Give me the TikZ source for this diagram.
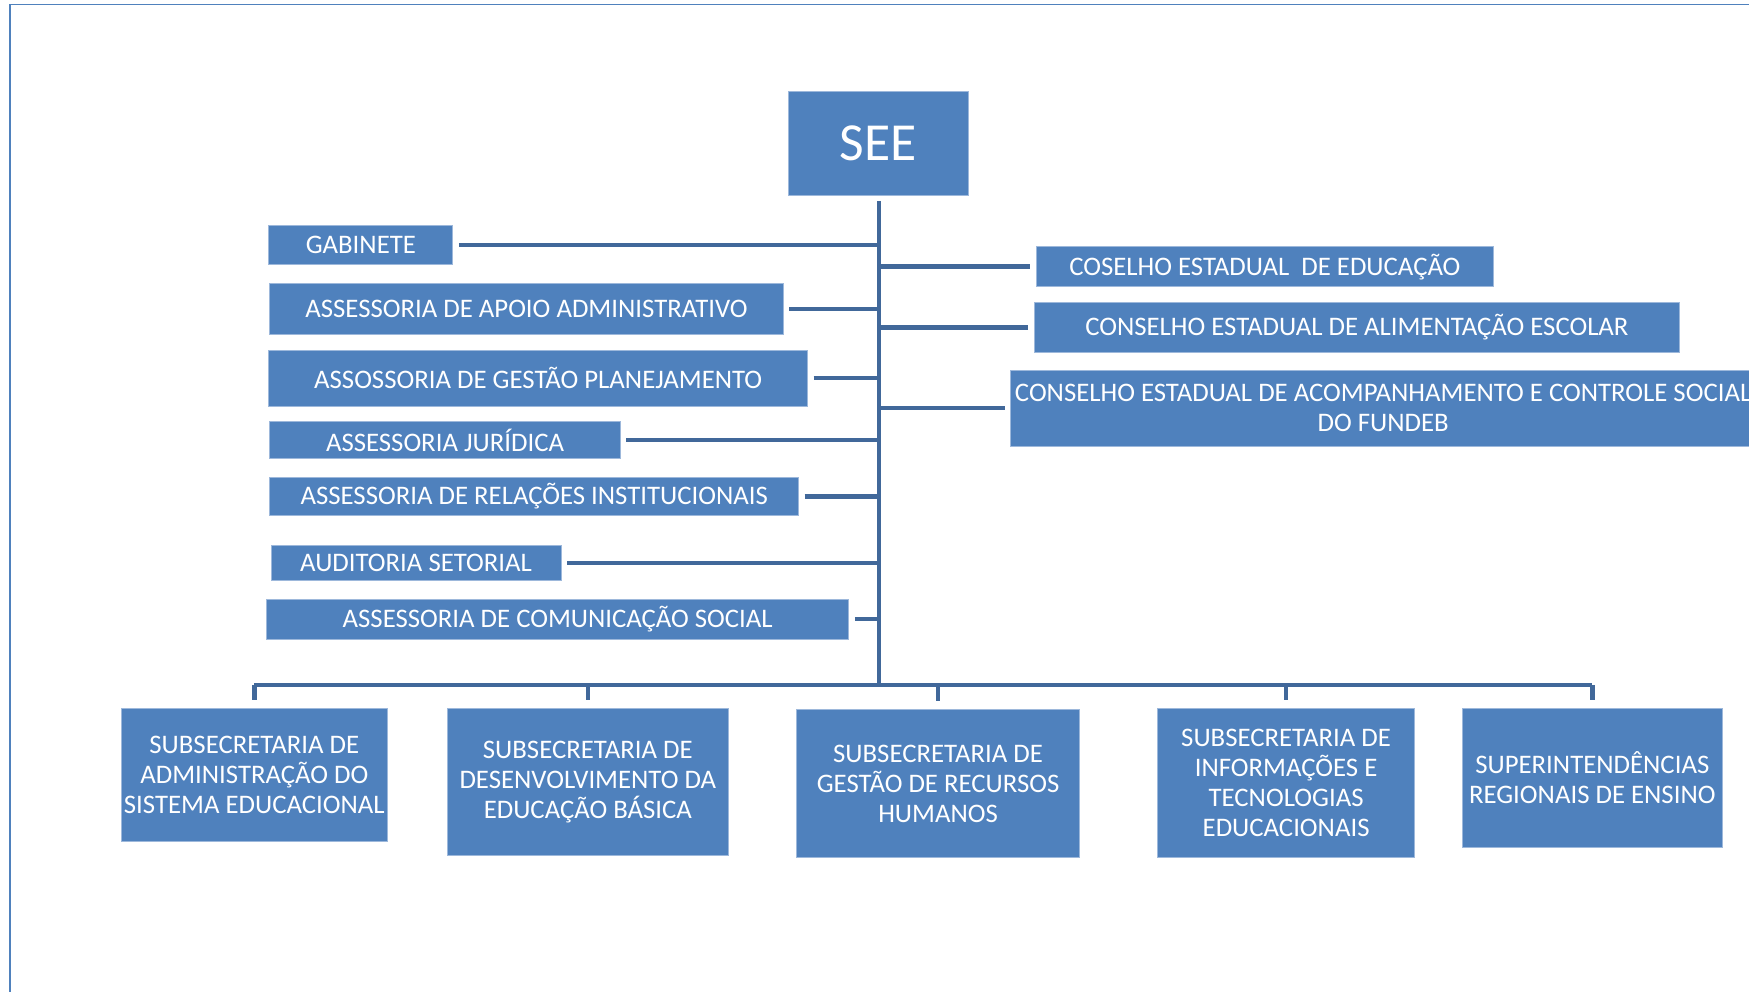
\documentclass[tikz,border=0pt]{standalone}
\usepackage{fontspec}
\setmainfont{Carlito}
\usepackage{tikz}
\definecolor{boxblue}{HTML}{4F81BD}
\definecolor{boxedge}{HTML}{9DB8DB}
\definecolor{linkblue}{HTML}{41689A}
\begin{document}
\begin{tikzpicture}[x=1pt,y=-1pt,
    box/.style={fill=boxblue,draw=boxedge,line width=0.8pt,text=white,inner sep=1pt,align=center,
      font=\fontsize{24}{27}\selectfont},
    link/.style={draw=linkblue,line width=4pt}]
    \clip (0,0) rectangle (1568,889);
    \draw[boxblue,line width=1.5pt] (9,4) rectangle (1620,940);

    \node[box,minimum width=161,minimum height=93,font=\fontsize{48}{50}\selectfont] (see) at (787.5,128.5) {SEE};

    \node[box,minimum width=165,minimum height=35] (gab) at (323.5,219.5) {GABINETE};
    \node[box,minimum width=460,minimum height=46] (apoio) at (472,277) {ASSESSORIA DE APOIO ADMINISTRATIVO};
    \node[box,minimum width=483,minimum height=50] (plan) at (482.5,339) {ASSOSSORIA DE GESTÃO PLANEJAMENTO};
    \node[box,minimum width=314,minimum height=33] (jur) at (399,394.5) {ASSESSORIA JURÍDICA};
    \node[box,minimum width=474,minimum height=34] (rel) at (479,445) {ASSESSORIA DE RELAÇÕES INSTITUCIONAIS};
    \node[box,minimum width=260,minimum height=31] (aud) at (373,504.5) {AUDITORIA SETORIAL};
    \node[box,minimum width=522,minimum height=36] (com) at (500,555) {ASSESSORIA DE COMUNICAÇÃO SOCIAL};

    \node[box,minimum width=410,minimum height=36] (cee) at (1134,239) {COSELHO ESTADUAL\ \ DE EDUCAÇÃO};
    \node[box,minimum width=579,minimum height=45] (cae) at (1216.5,293.5) {CONSELHO ESTADUAL DE ALIMENTAÇÃO ESCOLAR};
    \node[box,minimum width=668,minimum height=68] (fundeb) at (1240,366) {CONSELHO ESTADUAL DE ACOMPANHAMENTO E CONTROLE SOCIAL\\DO FUNDEB};

    \node[box,minimum width=238,minimum height=119] (adm) at (228,694.5) {SUBSECRETARIA DE\\ADMINISTRAÇÃO DO\\SISTEMA EDUCACIONAL};
    \node[box,minimum width=252,minimum height=132] (dev) at (527,701) {SUBSECRETARIA DE\\DESENVOLVIMENTO DA\\EDUCAÇÃO BÁSICA};
    \node[box,minimum width=254,minimum height=133] (rh) at (841,702.5) {SUBSECRETARIA DE\\GESTÃO DE RECURSOS\\HUMANOS};
    \node[box,minimum width=230,minimum height=134] (info) at (1153,702) {SUBSECRETARIA DE\\INFORMAÇÕES E\\TECNOLOGIAS\\EDUCACIONAIS};
    \node[box,minimum width=233,minimum height=125] (sre) at (1427.5,697.5) {SUPERINTENDÊNCIAS\\REGIONAIS DE ENSINO};

    \coordinate (top) at (788,180);
    \coordinate (bus) at (788,614);

    \draw[link] (top) -- (bus);
    \foreach \n in {gab,apoio,plan,jur,rel,aud,com}
        \draw[link] ([xshift=5]\n.east) -- (\n.east -| bus);
    \foreach \n in {cee,cae,fundeb}
        \draw[link] (\n.west -| bus) -- ([xshift=-5]\n.west);
    \draw[link] (adm.north |- bus) -- (sre.north |- bus);
    \foreach \n in {adm,dev,rh,info,sre}
        \draw[link] (\n.north |- bus) -- ([yshift=7]\n.north);
\end{tikzpicture}
\end{document}
